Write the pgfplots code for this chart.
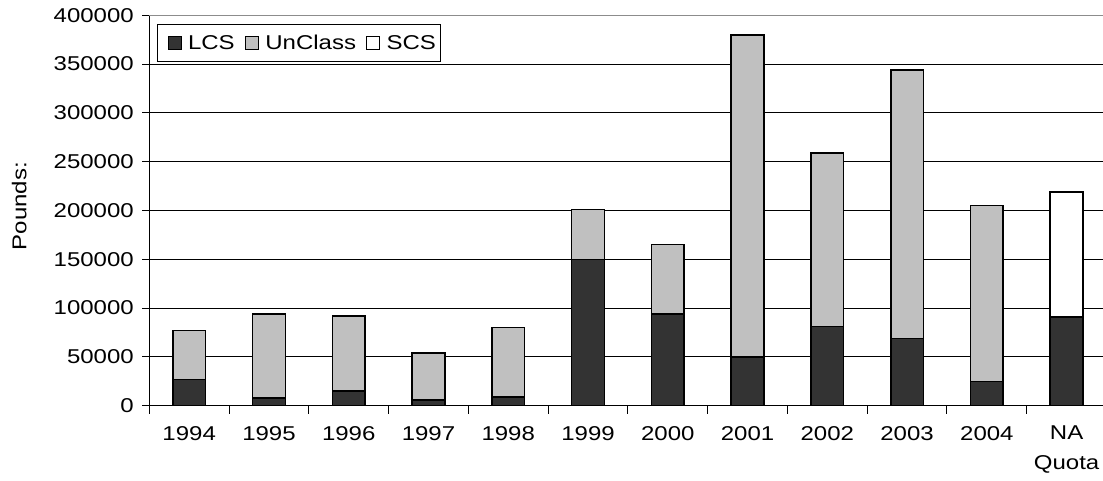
\documentclass[border=0pt]{standalone}
\usepackage{fontspec}
\setmainfont{Liberation Sans}[FakeStretch=1.2]
\usepackage{pgfplots}
\pgfplotsset{compat=1.18}
\definecolor{lcs}{HTML}{333333}
\definecolor{uncl}{HTML}{C0C0C0}
\newcommand{\chartfont}{\fontsize{20}{30}\selectfont}
\begin{document}
\begin{tikzpicture}
\useasboundingbox (-149.3pt,-74.3pt) rectangle (953.7pt,405.7pt);
\begin{axis}[
  at={(0pt,0pt)}, anchor=south west,
  width=953.7pt, height=390.4pt, scale only axis,
  ybar stacked, bar width=0.41,
  xmin=-0.5, xmax=11.456, ymin=0, ymax=400000,
  axis x line*=bottom, axis y line*=left,
  axis line style={-, black, line width=1.2pt},
  xtick={0,...,11},
  xticklabels={1994,1995,1996,1997,1998,1999,2000,2001,2002,2003,2004,{NA\\Quota}},
  minor xtick={-0.5,0.5,...,10.5},
  tick align=outside,
  major tick length=7pt, minor tick length=8pt,
  major x tick style={draw=none},
  minor x tick style={black, line width=1pt},
  major y tick style={black, line width=1pt},
  ytick={0,50000,100000,150000,200000,250000,300000,350000},
  extra y ticks={400000},
  extra y tick style={grid style={black!45, line width=1.2pt}},
  ymajorgrids, grid style={black, line width=0.9pt},
  scaled y ticks=false,
  yticklabel style={/pgf/number format/fixed, /pgf/number format/1000 sep={}, /pgf/number format/assume math mode=true, font=\chartfont, xshift=-5pt},
  xticklabel style={align=center, font=\chartfont, yshift=-10pt},
  ylabel={Pounds:},
  every axis y label/.style={at={(axis description cs:-0.1363,0.5115)}, rotate=90, anchor=center, font=\chartfont},
  every axis plot/.append style={draw=black, line width=1.6pt},
  legend style={at={(axis description cs:0.0081,0.9777)}, anchor=north west, draw=black, line width=0.9pt, fill=white, legend columns=-1, inner xsep=2pt, inner ysep=8.5pt, font=\chartfont},
  legend image code/.code={\path (0pt,0pt); \draw[#1, line width=1.1pt] (8pt,-7pt) rectangle (21pt,6pt); \path (25pt,0pt);},
]
\addplot[fill=lcs] coordinates {(0,27000) (1,8000) (2,15000) (3,6000) (4,9000) (5,150000) (6,94000) (7,50000) (8,81000) (9,69000) (10,25000) (11,91000)};
\addplot[fill=uncl] coordinates {(0,50000) (1,86000) (2,77000) (3,48000) (4,71000) (5,51000) (6,71000) (7,330000) (8,178000) (9,275000) (10,180000) (11,0)};
\addplot[fill=white] coordinates {(0,0) (1,0) (2,0) (3,0) (4,0) (5,0) (6,0) (7,0) (8,0) (9,0) (10,0) (11,128000)};
\legend{LCS,UnClass,SCS}
\end{axis}
\end{tikzpicture}
\end{document}
